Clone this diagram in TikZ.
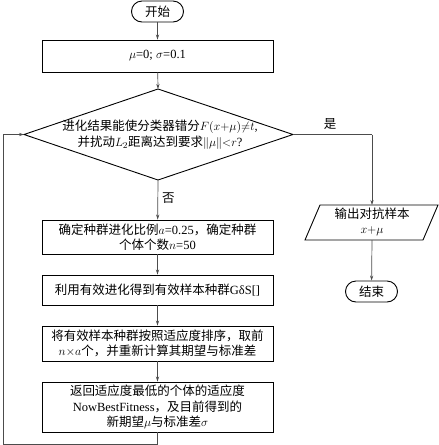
\documentclass[tikz,border=0pt]{standalone}
\usepackage{fontspec}
\setmainfont{Liberation Serif}
\newfontfamily\cjk{Noto Sans CJK SC}
\usetikzlibrary{arrows.meta}
\newcommand{\zh}[1]{{\cjk #1}}
\begin{document}
\begin{tikzpicture}[x=1pt,y=-1pt,
  every node/.style={font=\fontsize{12.5}{15.5}\selectfont, inner sep=0pt},
  procbox/.style={draw, line width=0.9pt, minimum width=231pt, align=center},
  term/.style={draw, line width=0.9pt, minimum width=52pt, minimum height=21pt, rounded corners=10.5pt},
  shapeline/.style={line width=0.9pt, line join=miter},
  conn/.style={draw=black!70, line width=0.7pt, -{Stealth[length=5pt,width=3.2pt]}},
  loopline/.style={draw=black!70, line width=0.7pt},
  lbl/.style={font=\fontsize{12.5}{14}\selectfont}]
\useasboundingbox (0,0) rectangle (439,445);

% start
\node[term] (start) at (157.5,11.5) {\zh{开始}};
% init box
\node[procbox, minimum height=32pt] (init) at (157.5,56) {\raisebox{-4pt}{$\mu$=0; $\sigma$=0.1}};

% decision diamond
\coordinate (dt) at (158,89);
\coordinate (db) at (158,180);
\coordinate (dl) at (24,134.5);
\coordinate (dr) at (293,134.5);
\draw[shapeline] (dt) -- (dr) -- (db) -- (dl) -- cycle;
\node[align=center, font=\fontsize{12.5}{16}\selectfont] (dtext) at (160,135) {\zh{进化结果能使分类器错分}$F(x{+}\mu){\neq}t$,\\\zh{并扰动}$L_2$\zh{距离达到要求}$\|\mu\|{<}r$?};

% process boxes
\node[procbox, minimum height=34pt] (b1) at (157.5,237) {\zh{确定种群进化比例}$a$=0.25\zh{，确定种群}\\\zh{个体个数}$n$=50};
\node[procbox, minimum height=30pt] (b2) at (157.5,290) {\zh{利用有效进化得到有效样本种群}GδS[]};
\node[procbox, minimum height=35pt] (b3) at (157.5,343.5) {\zh{将有效样本种群按照适应度排序，取前}\\$n{\times}a$\zh{个，并重新计算其期望与标准差}};
\node[procbox, minimum height=50pt] (b4) at (157.5,407) {\zh{返回适应度最低的个体的适应度}\\NowBestFitness\zh{，及目前得到的}\\\zh{新期望}$\mu$\zh{与标准差}$\sigma$};

% output parallelogram
\coordinate (ot) at (372,205);
\coordinate (ob) at (372,240);
\draw[shapeline] (305,240) -- (320,205) -- (438,205) -- (423,240) -- cycle;
\node[align=center, font=\fontsize{12.5}{14.5}\selectfont] (out) at (372,222) {\zh{输出对抗样本}\\$x{+}\mu$};

% end
\node[term] (end) at (371.5,291.5) {\zh{结束}};

% connectors
\draw[conn] (start) -- (init);
\draw[conn] (init) -- (dt);
\draw[conn] (db) -- node[lbl, pos=0.45, right=4pt] (no) {\zh{否}} (b1);
\draw[conn] (b1) -- (b2);
\draw[conn] (b2) -- (b3);
\draw[conn] (b3) -- (b4);
\coordinate (lp1) at (157.5,444);
\coordinate (lp2) at (3,444);
\coordinate (lp3) at (3,134.5);
\draw[loopline] (b4.south) -- (lp1) -- (lp2) -- (lp3);
\draw[conn] (lp3) -- (dl);
\coordinate (yc) at (372,134.5);
\draw[loopline] (dr) -- (yc);
\draw[conn] (yc) -- (ot);
\node[lbl] (yes) at (330,124) {\zh{是}};
\draw[conn] (ob) -- (end);
\end{tikzpicture}
\end{document}
